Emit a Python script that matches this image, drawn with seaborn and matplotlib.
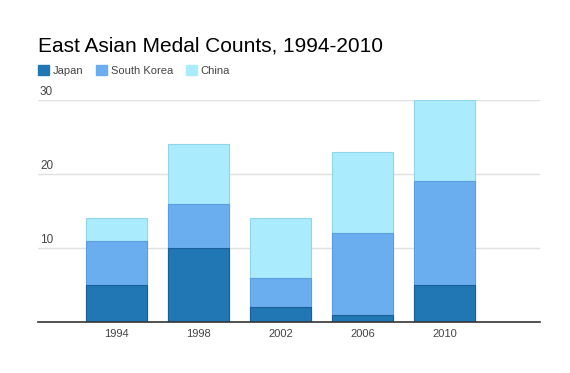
import numpy as np
import pandas as pd
import matplotlib
matplotlib.use("Agg")
import matplotlib.pyplot as plt
import seaborn as sns
from matplotlib.patches import Patch

# dados
anos = ["1994", "1998", "2002", "2006", "2010"]
japao = [5, 10, 2, 1, 5]
coreia_sul = [6, 6, 4, 11, 14]
china = [3, 8, 8, 11, 11]

series = ["Japan", "South Korea", "China"]
cores = ["#2077b4", "#6aaef0", "#aaebfd"]
bordas = ["#1a5f96", "#5b9edf", "#8fd5ec"]

df = pd.DataFrame({"Ano": anos, "Japan": japao, "South Korea": coreia_sul, "China": china})
# acumulado para empilhar (desenha de tras para frente)
acum = df[series].cumsum(axis=1)
acum["Ano"] = df["Ano"]

sns.set_theme(style="white")
plt.rcParams["font.family"] = ["Liberation Sans", "DejaVu Sans"]

fig = plt.figure(figsize=(5.7, 3.73), dpi=100)
ax = fig.add_axes([0.0667, 0.1367, 0.8806, 0.5953])

for i in reversed(range(len(series))):
    sns.barplot(data=acum, x="Ano", y=series[i], order=anos, color=cores[i],
                width=0.74, edgecolor=bordas[i], linewidth=0.8, saturation=1,
                ax=ax, zorder=3)

ax.set_xlim(-0.96, 5.16)
ax.set_ylim(0, 30)
ax.set_yticks([10, 20, 30])
ax.yaxis.grid(True, color="#e0e0e0", linewidth=1, zorder=0)
ax.set_yticklabels([])
ax.tick_params(axis="y", length=0)
for v in [10, 20, 30]:
    ax.text(0.004, v + 0.3, str(v), transform=ax.get_yaxis_transform(),
            ha="left", va="bottom", fontsize=8.5, color="#444444")

ax.tick_params(axis="x", length=0, pad=5, labelsize=8, labelcolor="#444444")
ax.set_xlabel("")
ax.set_ylabel("")
for s in ["top", "right", "left"]:
    ax.spines[s].set_visible(False)
ax.spines["bottom"].set_color("#333333")
ax.spines["bottom"].set_linewidth(1.2)
ax.spines["bottom"].set_zorder(4)

fig.text(0.0667, 0.878, "East Asian Medal Counts, 1994-2010", fontsize=15,
         color="#000000", ha="left", va="center")

handles = [Patch(facecolor=c, edgecolor=c) for c in cores]
fig.legend(handles, series, loc="center left", bbox_to_anchor=(0.049, 0.81),
           ncol=3, frameon=False, fontsize=8, handlelength=1.0, handleheight=1.0,
           handletextpad=0.3, columnspacing=1.2, labelcolor="#444444")

plt.savefig("out.png", dpi=100)
